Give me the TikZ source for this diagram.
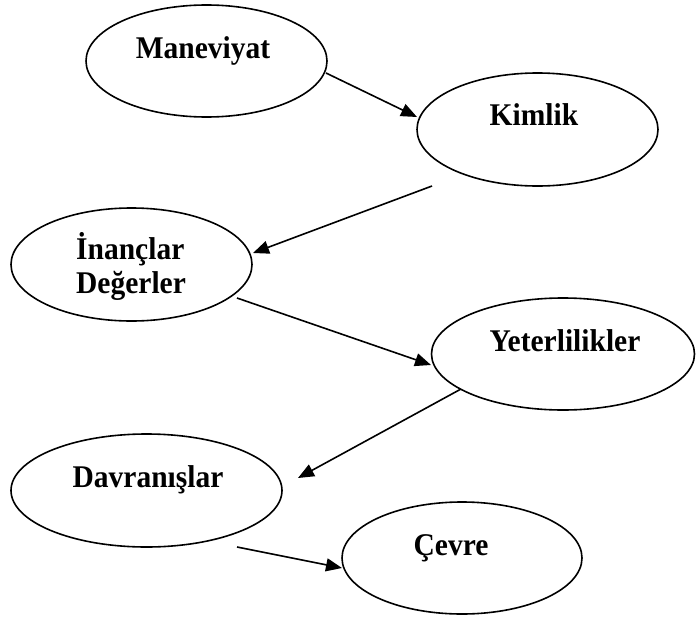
\documentclass[tikz,border=0pt]{standalone}
\usepackage{fontspec}
\setmainfont{Liberation Serif}
\usetikzlibrary{arrows.meta,shapes.geometric}
\newcommand\tallbox[1]{\scalebox{1}[1.07]{#1}}
\begin{document}
\begin{tikzpicture}[x=1pt,y=-1pt,
  oval/.style={draw, ellipse, line width=1.6pt, inner sep=0pt},
  lbl/.style={inner sep=0pt, anchor=base, font=\fontsize{29.5}{31.8}\selectfont\bfseries},
  link/.style={line width=1.6pt, -{Triangle[length=16pt,width=13pt]}}]
\useasboundingbox (0,0) rectangle (696,621);

% ovals
\node[oval, minimum width=241pt, minimum height=112pt] (man) at (206.5,61) {};
\node[oval, minimum width=241pt, minimum height=113pt] (kim) at (537.5,129.5) {};
\node[oval, minimum width=241pt, minimum height=113pt] (ina) at (131.5,264.5) {};
\node[oval, minimum width=263pt, minimum height=112pt] (yet) at (563,354) {};
\node[oval, minimum width=271pt, minimum height=113pt] (dav) at (146.5,490.5) {};
\node[oval, minimum width=240pt, minimum height=112pt] (cev) at (462,558) {};

% labels
\node[lbl] (manT) at (203,58) {\tallbox{Maneviyat}};
\node[lbl] (kimT) at (534,125) {\tallbox{Kimlik}};
\node[lbl, anchor=base west] (inaT) at (76,259)
  {\tallbox{\begin{tabular}[t]{@{}l@{}}İnançlar\\Değerler\end{tabular}}};
\node[lbl] (yetT) at (565,351) {\tallbox{Yeterlilikler}};
\node[lbl] (davT) at (148,487) {\tallbox{Davranışlar}};
\node[lbl] (cevT) at (451,555) {\tallbox{Çevre}};

% connector end points
\coordinate (a1) at (326,73);   \coordinate (b1) at (417,117);
\coordinate (a2) at (432,186);  \coordinate (b2) at (253,253);
\coordinate (a3) at (237,298);  \coordinate (b3) at (431,365);
\coordinate (a4) at (461,389);  \coordinate (b4) at (298,478);
\coordinate (a5) at (237,547);  \coordinate (b5) at (342,568);

\draw[link] (a1) -- (b1);
\draw[link] (a2) -- (b2);
\draw[link] (a3) -- (b3);
\draw[link] (a4) -- (b4);
\draw[link] (a5) -- (b5);
\end{tikzpicture}
\end{document}
